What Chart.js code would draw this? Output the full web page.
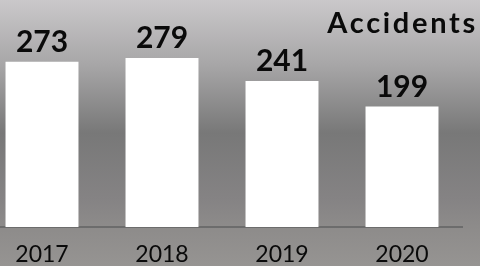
<!DOCTYPE html>
<html>
<head>
<meta charset="utf-8">
<script src="https://cdn.jsdelivr.net/npm/chart.js@4/dist/chart.umd.min.js"></script>
<style>
  html, body { margin: 0; padding: 0; }
  body {
    width: 480px; height: 266px; overflow: hidden; position: relative;
    background: linear-gradient(to bottom, #cac8ca 0%, #a6a5a6 25%, #787878 50%, #858384 75%, #8d8b8a 85%, #969492 100%);
  }
  #wrap { position: absolute; left: -18px; top: 0; width: 498px; height: 266px; }
</style>
</head>
<body>
<div id="wrap"><canvas id="chart"></canvas></div>
<script>
const years = ['2017', '2018', '2019', '2020'];
const accidents = [273, 279, 241, 199];
const chartTitle = 'Accidents';

// etiquetas encima de cada barra + titulo
const labelsPlugin = {
  id: 'barLabels',
  afterDatasetsDraw(chart) {
    const ctx = chart.ctx;
    const meta = chart.getDatasetMeta(0);
    ctx.save();
    ctx.fillStyle = '#0a0a0a';
    ctx.font = 'bold 30px Lato';
    ctx.textAlign = 'center';
    ctx.textBaseline = 'alphabetic';
    meta.data.forEach((bar, i) => {
      ctx.fillText(accidents[i], bar.x, bar.y - 10);
    });
    ctx.font = 'bold 29px Lato';
    ctx.letterSpacing = '2.7px';
    ctx.textAlign = 'right';
    ctx.fillText(chartTitle, 496, 33);
    ctx.restore();
  }
};

new Chart(document.getElementById('chart'), {
  type: 'bar',
  data: {
    labels: years,
    datasets: [{
      data: accidents,
      backgroundColor: '#ffffff',
      borderWidth: 0,
      categoryPercentage: 1,
      barPercentage: 0.608
    }]
  },
  options: {
    responsive: true,
    maintainAspectRatio: false,
    animation: false,
    layout: { padding: { left: 0, right: 18, top: 0, bottom: 0 } },
    plugins: { legend: { display: false }, tooltip: { enabled: false } },
    scales: {
      y: { display: false, min: 0, max: 375 },
      x: {
        afterFit: s => { s.height = 39; },
        grid: { display: false, drawTicks: false },
        border: { display: true, color: '#6c6c6c', width: 2 },
        ticks: { color: '#0a0a0a', font: { family: 'Lato', size: 23 }, padding: 14 }
      }
    }
  },
  plugins: [labelsPlugin]
});
</script>
</body>
</html>
